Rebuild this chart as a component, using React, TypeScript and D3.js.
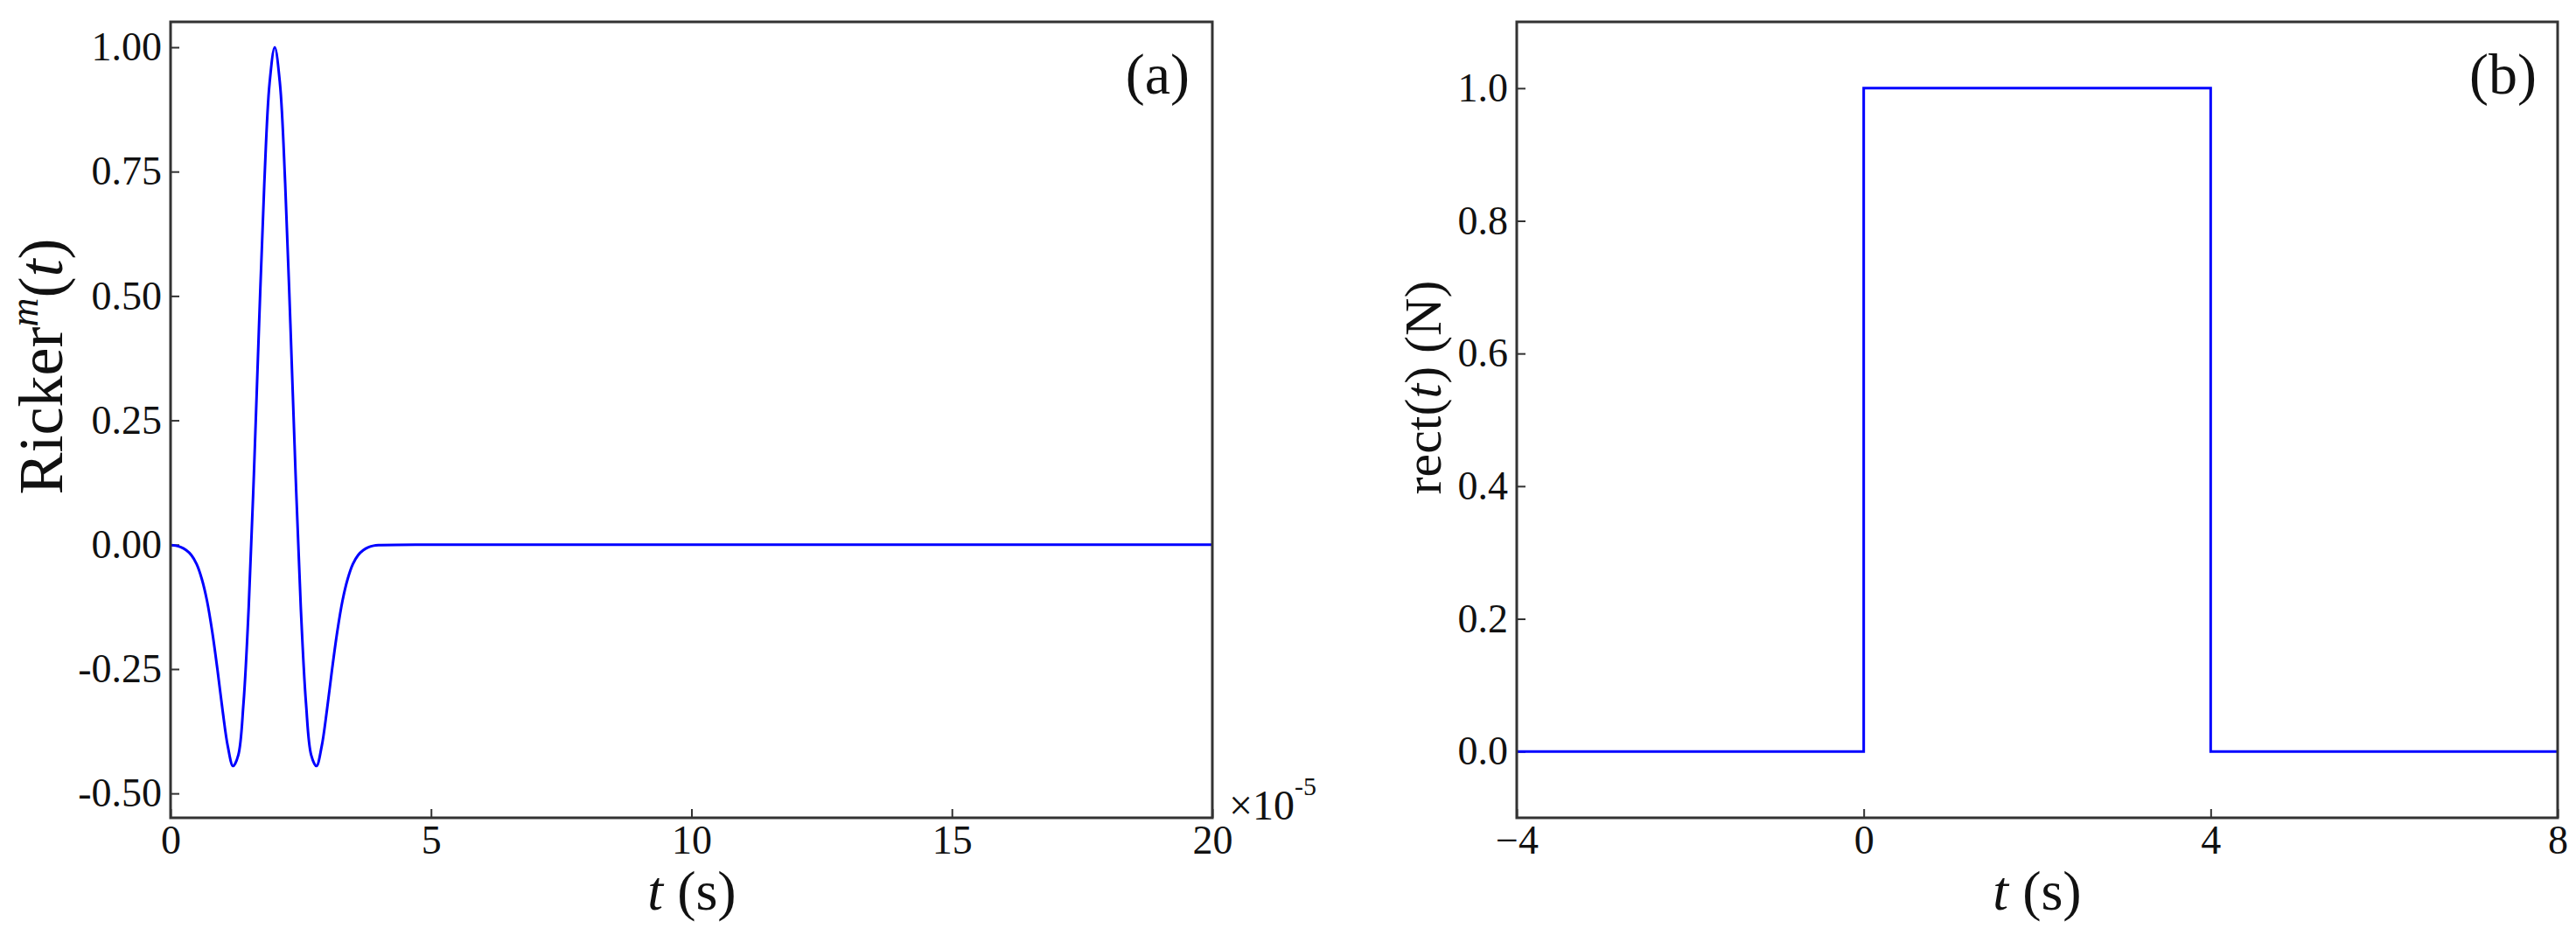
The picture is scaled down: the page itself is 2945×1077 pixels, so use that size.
import React, { useEffect, useRef } from 'react';
import * as d3 from 'd3';

// panel (a): Ricker wavelet, time in units of 1e-5 s
const rickerT = [
  0, 0.1, 0.2, 0.3, 0.4, 0.5, 0.6, 0.7, 0.8, 0.9, 1.0, 1.1, 1.2, 1.3, 1.4, 1.5, 1.6, 1.7, 1.8, 1.9,
  2.0, 2.1, 2.2, 2.3, 2.4, 2.5, 2.6, 2.7, 2.8, 2.9, 3.0, 3.1, 3.2, 3.3, 3.4, 3.5, 3.6, 3.7, 3.8, 3.9,
  4.0, 5, 10, 15, 20,
];
const rickerV = [
  -0.001, -0.002, -0.005, -0.011, -0.021, -0.039, -0.069, -0.113, -0.175, -0.251, -0.334, -0.406,
  -0.445, -0.423, -0.319, -0.126, 0.142, 0.445, 0.727, 0.927,
  1.0, 0.927, 0.727, 0.445, 0.142, -0.126, -0.319, -0.423, -0.445, -0.406, -0.334, -0.251, -0.175,
  -0.113, -0.069, -0.039, -0.021, -0.011, -0.005, -0.002,
  -0.001, 0, 0, 0, 0,
];
const ticksAx = [0, 5, 10, 15, 20];
const ticksAy = [-0.5, -0.25, 0, 0.25, 0.5, 0.75, 1.0];

// panel (b): rectangular pulse
const rectT = [-4, 0, 0, 4, 4, 8];
const rectV = [0, 0, 1, 1, 0, 0];
const ticksBx = [-4, 0, 4, 8];
const ticksBy = [0, 0.2, 0.4, 0.6, 0.8, 1.0];

const FONT = '"Liberation Serif", "Times New Roman", serif';
const FRAME = '#333';

function Panel(props: any) {
  const { x0, x1, y0, y1, xDomain, yDomain, xs, ys, xTicks, yTicks, xFmt, yFmt, curve } = props;
  const gRef = useRef<SVGGElement>(null);

  useEffect(() => {
    const g = d3.select(gRef.current);
    g.selectAll('*').remove();
    const xScale = d3.scaleLinear().domain(xDomain).range([x0, x1]);
    const yScale = d3.scaleLinear().domain(yDomain).range([y1, y0]);

    const xAxis = d3.axisBottom(xScale).tickValues(xTicks).tickFormat(xFmt)
      .tickSizeInner(-10).tickSizeOuter(0).tickPadding(8);
    const yAxis = d3.axisLeft(yScale).tickValues(yTicks).tickFormat(yFmt)
      .tickSizeInner(-10).tickSizeOuter(0).tickPadding(10);

    const gx = g.append('g').attr('transform', `translate(0,${y1})`).call(xAxis);
    const gy = g.append('g').attr('transform', `translate(${x0},0)`).call(yAxis);
    [gx, gy].forEach(a => {
      a.select('.domain').remove();
      a.selectAll('.tick line').attr('stroke', FRAME).attr('stroke-width', 2);
      a.selectAll('.tick text').attr('font-family', FONT).attr('font-size', 46).attr('fill', '#111');
    });

    const lineGen = d3.line<number>()
      .x((d, i) => xScale(xs[i]))
      .y(d => yScale(d))
      .curve(curve);
    g.append('path')
      .datum(ys)
      .attr('d', lineGen)
      .attr('fill', 'none')
      .attr('stroke', '#0000ff')
      .attr('stroke-width', 3);

    g.append('rect')
      .attr('x', x0).attr('y', y0)
      .attr('width', x1 - x0).attr('height', y1 - y0)
      .attr('fill', 'none')
      .attr('stroke', FRAME)
      .attr('stroke-width', 3);
  }, [x0, x1, y0, y1, xDomain, yDomain, xs, ys, xTicks, yTicks, xFmt, yFmt, curve]);

  return <g ref={gRef}></g>;
}

export default function App() {
  return (
    <svg width={2945} height={1077} style={{ position: 'absolute', left: 0, top: 0, background: '#fff' }}
      fontFamily={FONT}>
      <Panel x0={195} x1={1386} y0={25} y1={935}
        xDomain={[0, 20]} yDomain={[-0.549, 1.051]}
        xs={rickerT} ys={rickerV} xTicks={ticksAx} yTicks={ticksAy}
        xFmt={(d: number) => String(d)} yFmt={(d: number) => d.toFixed(2)}
        curve={d3.curveCatmullRom} />
      <Panel x0={1734} x1={2924} y0={25} y1={935}
        xDomain={[-4, 8]} yDomain={[-0.1, 1.1]}
        xs={rectT} ys={rectV} xTicks={ticksBx} yTicks={ticksBy}
        xFmt={d3.format('d')} yFmt={d3.format('.1f')}
        curve={d3.curveLinear} />

      {/* panel (a) texts */}
      <text x={1360} y={107} fontSize={66} textAnchor="end" fill="#111">(a)</text>
      <text x={1405} y={937} fontSize={48} fill="#111">
        ×10<tspan fontSize={30} dy={-28}>-5</tspan>
      </text>
      <text x={791} y={1040} fontSize={64} textAnchor="middle" fill="#111">
        <tspan fontStyle="italic">t</tspan> (s)
      </text>
      <text transform="translate(71,419) rotate(-90)" fontSize={72} textAnchor="middle" fill="#111">
        Ricker<tspan fontSize={46} fontStyle="italic" dy={-28}>m</tspan><tspan dy={28}>(</tspan><tspan fontStyle="italic">t</tspan>)
      </text>

      {/* panel (b) texts */}
      <text x={2900} y={107} fontSize={66} textAnchor="end" fill="#111">(b)</text>
      <text x={2329} y={1040} fontSize={64} textAnchor="middle" fill="#111">
        <tspan fontStyle="italic">t</tspan> (s)
      </text>
      <text transform="translate(1647,443) rotate(-90)" fontSize={60} textAnchor="middle" fill="#111">
        rect(<tspan fontStyle="italic">t</tspan>) (N)
      </text>
    </svg>
  );
}
